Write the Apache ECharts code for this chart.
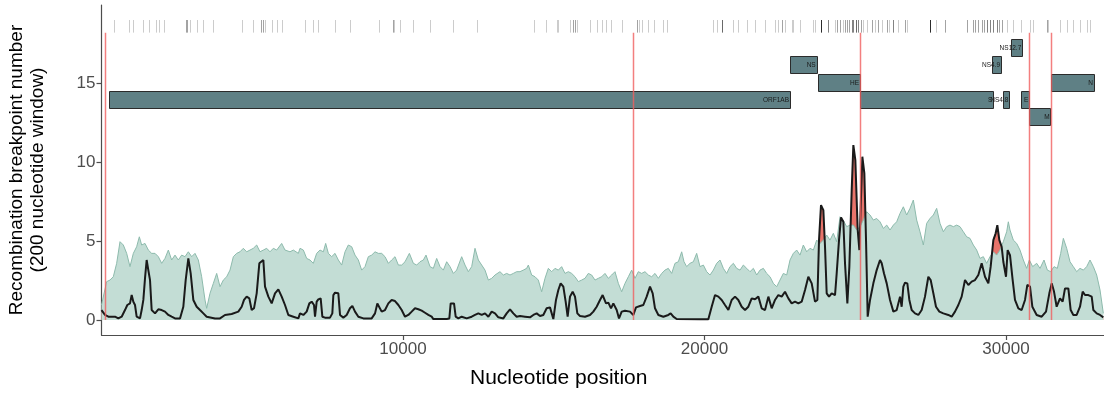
<!DOCTYPE html>
<html><head><meta charset="utf-8">
<script src="https://cdn.jsdelivr.net/npm/echarts@6/dist/echarts.min.js"></script>
<style>html,body{margin:0;padding:0;background:#fff}#c{width:1104px;height:394px}</style>
</head><body><div id="c"></div>
<script>
// ---- data ----
const xTicks = [10000, 20000, 30000];
const yTicks = [0, 5, 10, 15];

// observed recombination breakpoint count per 200-nt window: [position, count]
const observed = [
[0,0.63],[116,0.32],[227,0.21],[448,0.21],[558,0.1],[669,0.21],[779,0.63],[857,0.95],[945,1.05],[1001,1.58],[1056,1.16],[1111,0.95],[1166,0.21],[1277,0.1],[1332,0.63],[1388,1.27],[1443,2.64],[1498,3.8],[1553,3.16],[1609,2.53],[1664,0.63],[1775,0.42],[1885,0.68],[1996,0.63],[2106,0.53],[2217,0.32],[2327,0.21],[2438,0.1],[2604,0.1],[2714,0.84],[2792,2.53],[2880,3.9],[2958,2.95],[3046,1.27],[3157,0.84],[3267,0.63],[3378,0.42],[3488,0.21],[3765,0.1],[3931,0.1],[4096,0.32],[4317,0.38],[4538,0.53],[4649,0.84],[4727,1.27],[4815,1.48],[4903,1.37],[4981,0.63],[5058,0.74],[5147,1.69],[5235,3.59],[5368,3.8],[5423,2.11],[5534,1.48],[5644,1.05],[5755,1.69],[5865,1.94],[5976,1.48],[6086,0.95],[6197,0.32],[6363,0.21],[6529,0.1],
[6584,0.42],[6695,0.32],[6805,0.53],[6894,1.05],[6971,1.16],[7048,0.95],[7082,0.21],[7137,1.16],[7192,1.31],[7269,1.37],[7325,0.21],[7413,0.15],[7579,0.15],[7656,0.42],[7690,1.58],[7745,1.73],[7855,1.69],[7911,0.32],[8021,0.15],[8132,0.32],[8242,0.74],[8320,0.89],[8408,0.53],[8519,0.21],[8685,0.1],[8961,0.1],[9072,0.42],[9149,1.05],[9215,1.1],[9293,0.53],[9403,0.63],[9514,1.05],[9624,1.27],[9735,1.2],[9846,0.95],[9956,0.63],[10067,0.21],[10177,0.32],[10288,0.53],[10398,0.74],[10509,0.68],[10620,0.59],[10730,0.46],[10841,0.32],[10951,0.21],[11006,0.06],[11449,0.06],[11537,0.1],[11581,1.05],[11692,1.05],[11747,0.21],[11836,0.1],[11946,0.21],[12112,0.1],[12278,0.21],[12388,0.32],[12499,0.42],[12610,0.32],[12720,0.42],[12831,0.21],[12941,0.53],[13052,0.42],[13162,0.17],
[13217,0.06],[13328,0.1],[13438,0.42],[13549,0.68],[13659,0.42],[13770,0.21],[13880,0.25],[14046,0.21],[14212,0.17],[14323,0.32],[14433,0.42],[14544,0.25],[14654,0.32],[14765,0.74],[14875,0.8],[14986,0.06],[15074,1.27],[15152,1.9],[15229,2.32],[15318,2.11],[15395,1.16],[15461,0.21],[15539,1.48],[15627,1.79],[15705,1.48],[15782,0.42],[15870,0.25],[16036,0.21],[16202,0.32],[16313,0.53],[16423,0.84],[16534,1.27],[16622,1.58],[16733,1.05],[16810,1.1],[16899,0.74],[16976,1.05],[17087,0.63],[17164,0.1],[17253,0.53],[17363,0.59],[17529,0.53],[17639,0.32],[17728,0.8],[17861,0.89],[17971,0.95],[18082,1.48],[18192,2.11],[18281,1.69],[18358,0.74],[18469,0.32],[18635,0.21],[18800,0.32],[18878,0.42],[18966,0.21],[19077,0.06],[19851,0.04],
[20127,0.04],[20238,0.84],[20349,1.58],[20459,1.48],[20570,1.27],[20680,0.95],[20791,0.63],[20901,1.27],[21012,1.48],[21122,1.27],[21233,0.84],[21344,0.63],[21454,0.84],[21565,1.37],[21675,1.31],[21786,1.48],[21896,0.74],[22007,0.63],[22118,1.48],[22228,0.74],[22339,1.27],[22449,1.58],[22560,1.48],[22670,1.79],[22781,1.37],[22891,1.05],[23002,1.16],[23113,1.05],[23223,1.16],[23334,1.9],[23444,2.74],[23555,2.32],[23665,1.16],[23743,1.27],[23798,5.06],[23864,7.28],[23942,6.96],[23997,4.64],[24052,1.69],[24130,1.48],[24218,1.69],[24329,1.58],[24384,2.95],[24461,5.06],[24528,6.5],[24605,6.22],[24660,3.59],[24738,1.05],[24804,3.38],[24882,8.23],[24937,11.08],[25003,10.13],[25081,5.7],[25136,4.43],[25180,7.17],[25235,10.34],[25302,9.28],[25357,5.06],[25412,0.21],[25490,1.27],[25600,2.32],[25711,3.16],[25821,3.8],[25877,3.59],[25954,2.95],[26043,2.32],[26153,1.27],[26264,0.53],[26374,0.63],[26485,1.48],
[26539,0.84],[26595,2.11],[26650,2.36],[26727,2.32],[26794,1.27],[26871,0.63],[26982,0.42],[27092,0.32],[27203,0.63],[27313,1.48],[27424,2.74],[27501,2.53],[27590,1.69],[27678,0.84],[27789,0.53],[27921,0.42],[28087,0.32],[28198,0.21],[28308,0.53],[28419,0.95],[28529,1.48],[28640,2.53],[28751,2.22],[28861,2.43],[28972,2.53],[29082,2.85],[29193,3.59],[29303,2.74],[29414,2.32],[29491,3.38],[29580,5.06],[29657,5.49],[29712,6.01],[29779,5.06],[29856,4.64],[29911,3.69],[30000,2.74],[30055,4.43],[30132,4.11],[30221,2.53],[30298,1.27],[30409,0.74],[30519,0.63],[30630,1.27],[30707,2.22],[30796,2.11],[30873,0.84],[31017,0.32],[31183,0.21],[31327,0.53],[31437,1.69],[31515,2.32],[31592,1.8],[31680,0.84],[31791,1.37],[31879,1.16],[31957,2.0],[32067,2.0],[32145,0.63],[32233,0.32],[32344,0.32],[32454,0.84],[32543,1.8],[32620,1.58],[32731,1.58],[32842,1.48],[32897,0.63],[33007,0.42],[33118,0.32],[33228,0.17]
];

// upper bound of the null (simulated) envelope: [position, count]
const nullUpper = [
[0,0.95],[61,1.05],[171,2.43],[282,2.53],[392,2.74],[503,3.59],[614,4.96],[669,5.06],[724,4.75],[835,4.22],[945,3.38],[1056,4.22],[1166,4.64],[1255,5.27],[1332,4.75],[1443,4.85],[1553,4.43],[1664,4.22],[1775,4.22],[1885,4.01],[1996,3.59],[2106,3.9],[2217,4.43],[2327,3.8],[2438,4.11],[2548,3.8],[2659,4.11],[2770,4.01],[2880,4.32],[2991,4.01],[3101,4.22],[3212,3.8],[3322,2.74],[3433,1.27],[3488,0.74],[3599,1.69],[3710,2.32],[3820,2.95],[3931,2.11],[4041,2.53],[4152,2.74],[4262,3.16],[4373,4.01],[4483,4.22],[4594,4.32],[4704,4.54],[4815,4.32],[4925,4.43],[5036,4.54],[5147,4.75],[5257,4.32],[5368,4.43],[5478,4.54],[5589,4.32],[5699,4.54],[5810,4.43],[5976,4.85],[6086,4.43],[6252,4.32],[6363,4.43],[6529,4.22],
[6584,4.54],[6695,4.43],[6805,3.9],[6916,3.8],[7026,3.59],[7137,4.22],[7248,4.43],[7358,4.32],[7435,4.85],[7524,4.22],[7634,4.01],[7745,4.22],[7855,3.8],[7966,3.48],[8077,4.32],[8187,4.75],[8298,4.64],[8408,4.11],[8519,3.8],[8629,3.16],[8740,3.38],[8850,4.01],[8961,4.11],[9072,4.32],[9182,4.22],[9293,4.22],[9403,4.01],[9514,3.59],[9624,3.8],[9735,4.01],[9846,3.48],[9956,3.48],[10067,3.69],[10211,4.22],[10343,3.59],[10454,3.48],[10564,3.69],[10675,3.8],[10763,4.11],[10896,3.38],[11006,3.27],[11117,3.9],[11228,3.38],[11338,3.16],[11449,3.69],[11559,3.38],[11670,2.95],[11780,3.16],[11946,4.01],[12057,3.48],[12167,3.06],[12278,3.38],[12388,4.54],[12499,3.8],[12610,3.48],[12720,3.16],[12831,2.53],[12941,2.64],[13052,2.85],
[13217,3.06],[13328,2.85],[13438,2.95],[13549,2.85],[13659,2.95],[13770,3.06],[13880,3.06],[13991,3.16],[14101,3.27],[14157,3.48],[14267,2.85],[14378,2.74],[14488,2.53],[14599,1.79],[14710,2.64],[14820,3.27],[14931,3.06],[15041,3.27],[15152,3.16],[15262,3.38],[15373,2.95],[15484,3.06],[15594,2.95],[15705,2.74],[15815,2.43],[15926,2.53],[16036,2.64],[16147,2.95],[16257,2.85],[16368,2.53],[16478,2.64],[16589,2.74],[16699,2.95],[16810,2.64],[16921,2.85],[17031,3.06],[17142,2.32],[17253,1.79],[17363,2.32],[17474,2.74],[17584,3.16],[17695,2.64],[17805,3.06],[17916,2.95],[18026,3.06],[18137,2.85],[18247,2.74],[18358,2.95],[18469,2.64],[18579,2.95],[18690,3.16],[18800,3.27],[18911,2.95],[19021,3.59],[19132,3.69],[19243,4.32],[19320,3.69],[19408,3.38],[19519,3.59],[19630,3.69],[19740,4.22],
[19851,3.38],[19962,3.48],[20072,3.06],[20183,2.85],[20293,3.16],[20404,3.59],[20514,3.8],[20625,3.27],[20735,2.95],[20846,3.38],[20957,3.59],[21067,3.27],[21178,3.16],[21288,3.48],[21399,3.27],[21509,3.06],[21620,3.27],[21731,2.85],[21841,3.16],[21952,3.27],[22062,2.95],[22173,2.74],[22283,2.32],[22394,2.11],[22504,2.53],[22615,2.95],[22726,2.85],[22836,3.8],[22947,4.22],[23057,4.43],[23168,4.11],[23278,4.75],[23389,4.32],[23499,4.54],[23610,4.43],[23721,5.06],[23831,4.85],[23942,5.06],[24052,5.38],[24163,5.06],[24273,5.49],[24384,4.96],[24495,6.54],[24605,6.3],[24716,5.91],[24826,6.01],[24937,6.01],[25048,5.7],[25158,5.91],[25269,6.33],[25379,6.86],[25490,6.65],[25600,6.33],[25711,6.43],[25821,6.22],[25932,5.8],[26043,6.01],[26153,5.7],[26264,6.01],[26374,6.22],
[26484,6.75],[26595,7.17],[26705,6.65],[26816,7.07],[26926,7.6],[26982,7.49],[27037,6.33],[27147,5.59],[27258,4.75],[27368,6.12],[27479,6.43],[27590,6.65],[27700,7.07],[27811,6.12],[27921,5.59],[28032,5.91],[28142,6.01],[28253,5.91],[28364,6.01],[28474,5.91],[28585,5.59],[28695,5.27],[28806,5.17],[28916,4.75],[29027,4.43],[29137,3.9],[29248,4.01],[29359,3.59],[29469,4.01],[29580,4.32],[29690,4.11],[29801,4.43],[29911,4.96],[30022,5.59],[30077,6.22],[30132,5.7],[30243,5.06],[30354,4.85],[30464,4.43],[30575,3.8],[30685,3.27],[30774,3.8],[30884,3.38],[31017,3.59],[31128,3.27],[31260,3.8],[31371,3.16],[31481,3.06],[31592,3.38],[31703,3.27],[31813,4.22],[31902,5.17],[32012,4.54],[32123,3.69],[32233,3.38],[32344,3.06],[32454,3.27],[32565,3.16],[32675,3.38],[32786,3.8],[32897,3.38],[33007,2.85],[33118,1.9],[33228,0.42]
];

// detected recombination breakpoints (red vertical lines)
const breakpoints = [100, 17640, 25150, 30770, 31480];

// genome annotation
const geneNames = ['ORF1AB', 'NS', 'HE', 'S', 'NS4.9', 'NS4.8', 'NS12.7', 'E', 'M', 'N'];
const geneStart = [250, 22836, 23755, 25158, 29545, 29910, 30166, 30498, 30773, 31483];
const geneEnd   = [22836, 23721, 25158, 29579, 29834, 30109, 30540, 30773, 31483, 32919];
const geneRow   = [1, 3, 2, 1, 3, 1, 4, 1, 0, 2];

// polymorphic / recombinant sites shown as rug at top, with overlap counts
const sites = [415,923,1056,1388,1587,1808,1918,2084,2803,2847,2935,3157,3355,3709,4649,5036,5279,5346,5423,5644,5810,5976,6750,7026,7192,7745,8242,9215,9658,9702,9901,10343,10896,11670,12466,14345,14743,15097,15152,15539,15628,15705,15783,16203,16424,
16589,16733,16888,17253,17772,17839,17916,18137,18325,18635,18745,20293,20404,20569,20956,21122,21399,21675,22007,22338,22449,22560,22670,22891,22946,23168,23610,23665,23853,24107,24328,24406,24494,24583,24660,24738,24804,24881,24937,25025,25102,25180,25268,25379,25545,25655,25766,25876,26042,26131,26263,26429,26650,26706,27479,27678,27977,28696,28895,28972,29083,29193,29271,29359,29470,29580,29691,29779,29857,30023,30244,30487,30797,30907,31349,31404,31791,32012,32233,32454,32675,32786];
const siteCounts = [1,1,1,1,1,1,1,1,2,2,1,1,1,1,1,1,2,2,1,1,1,1,1,1,1,1,1,1,2,1,1,1,1,1,1,1,1,1,1,1,2,2,1,1,1,
1,1,1,1,2,1,1,1,1,1,1,1,1,4,1,1,1,1,1,1,1,2,1,1,1,1,1,1,8,3,1,2,2,1,2,2,2,3,3,4,3,2,1,1,2,1,2,1,2,1,3,1,2,1,8,1,2,2,2,2,2,2,2,3,3,3,3,2,2,1,1,1,1,1,2,1,1,1,1,1,1,1];

// ---- layout / style constants ----
const FONT = '"Liberation Sans", Arial, sans-serif';
const geneRowBase = 12.3, geneRowH = 1.1;
const rugY0 = 18.2, rugY1 = 19.0;
const bpTop = 18.2;

const chart = echarts.init(document.getElementById('c'), null, {renderer: 'canvas'});

function vline(api, x, y0, y1, stroke, w) {
  const a = api.coord([x, y0]), b = api.coord([x, y1]);
  const px = Math.round(a[0]) + 0.5;
  return {type: 'line', shape: {x1: px, y1: a[1], x2: px, y2: b[1]}, style: {stroke: stroke, lineWidth: w}};
}

chart.setOption({
  animation: false,
  backgroundColor: '#fff',
  grid: {left: 101.5, right: 0, top: 5, bottom: 59, containLabel: false, outerBoundsMode: 'none'},
  xAxis: {
    type: 'value', min: 0, max: 33250,
    name: 'Nucleotide position', nameLocation: 'middle', nameGap: 33,
    nameTextStyle: {fontFamily: FONT, fontSize: 21, color: '#000', padding: [0, 88, 0, 0]},
    axisLine: {show: true, onZero: false, lineStyle: {color: '#4d4d4d', width: 1.2}},
    axisTick: {show: true, length: 5, customValues: xTicks, lineStyle: {color: '#4d4d4d', width: 1.2}},
    axisLabel: {customValues: xTicks, fontFamily: FONT, fontSize: 17, color: '#4d4d4d', margin: 6,
      formatter: function (v) { return String(v); }},
    splitLine: {show: false}
  },
  yAxis: {
    type: 'value', min: -0.95, max: 19.95,
    name: 'Recombination breakpoint number\n(200 nucleotide window)',
    nameLocation: 'middle', nameGap: 53, nameRotate: 90,
    nameTextStyle: {fontFamily: FONT, fontSize: 19, color: '#000', lineHeight: 21, align: 'center'},
    axisLine: {show: true, onZero: false, lineStyle: {color: '#4d4d4d', width: 1.2}},
    axisTick: {show: true, length: 5, customValues: yTicks, lineStyle: {color: '#4d4d4d', width: 1.2}},
    axisLabel: {customValues: yTicks, fontFamily: FONT, fontSize: 17, color: '#4d4d4d', margin: 6},
    splitLine: {show: false}
  },
  series: [
    {
      name: 'excess', type: 'line', data: observed, showSymbol: false, symbol: 'none',
      lineStyle: {width: 0}, areaStyle: {color: '#e8746b', opacity: 1}, z: 1, silent: true
    },
    {
      name: 'null', type: 'line', data: nullUpper, showSymbol: false, symbol: 'none',
      lineStyle: {color: '#8dbaac', width: 1}, areaStyle: {color: '#c3ddd5', opacity: 1}, z: 2, silent: true
    },
    {
      name: 'observed', type: 'line', data: observed, showSymbol: false, symbol: 'none',
      lineStyle: {color: '#1a1a1a', width: 2}, z: 3, silent: true
    },
    {
      name: 'genes', type: 'custom', z: 4, silent: true,
      data: geneNames.map((n, i) => [geneStart[i], geneEnd[i], geneRow[i]]),
      encode: {x: [0, 1], y: 2},
      renderItem: function (params, api) {
        const s = api.value(0), e = api.value(1), r = api.value(2);
        const b = geneRowBase + r * geneRowH;
        const p0 = api.coord([s, b + geneRowH]), p1 = api.coord([e, b]);
        return {type: 'group', children: [
          {type: 'rect', shape: {x: Math.round(p0[0]) + 0.5, y: Math.round(p0[1]) + 0.5, width: Math.round(p1[0] - p0[0]), height: Math.round(p1[1] - p0[1])},
           style: {fill: '#5f8085', stroke: '#2b2b2b', lineWidth: 1}},
          {type: 'text', style: {text: geneNames[params.dataIndex], x: p1[0] - 1, y: (p0[1] + p1[1]) / 2 + 0.5,
           align: 'right', verticalAlign: 'middle', fontSize: 6.5, fontFamily: FONT, fill: '#1a1a1a'}}
        ]};
      }
    },
    {
      name: 'sites', type: 'custom', z: 4, silent: true,
      data: sites.map((s, i) => [s, siteCounts[i]]),
      encode: {x: 0, y: 1},
      renderItem: function (params, api) {
        const a = 1 - Math.pow(0.8, api.value(1));
        return vline(api, api.value(0), rugY0, rugY1, 'rgba(0,0,0,' + a.toFixed(3) + ')', 1);
      }
    },
    {
      name: 'breakpoints', type: 'custom', z: 5, silent: true,
      data: breakpoints.map(b => [b, 0]),
      encode: {x: 0, y: 1},
      renderItem: function (params, api) {
        return vline(api, api.value(0), 0, bpTop, 'rgba(240,95,95,0.8)', 1.5);
      }
    }
  ]
});
</script>
</body></html>
